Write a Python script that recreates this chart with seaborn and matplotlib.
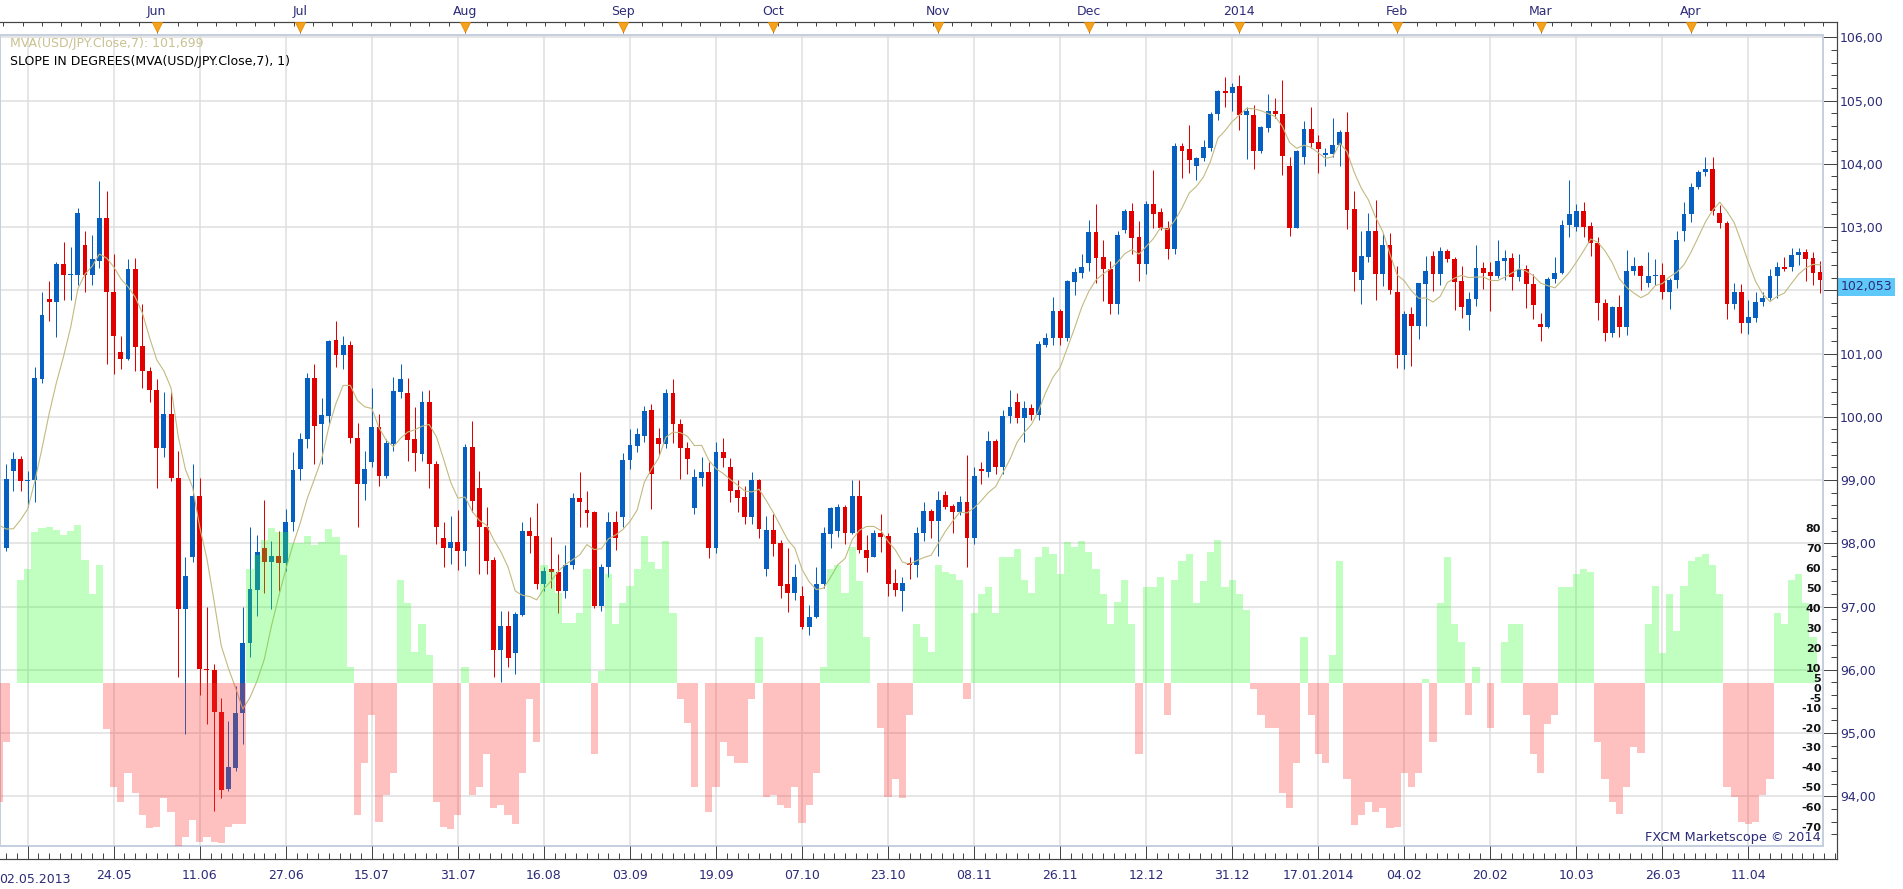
import numpy as np
import pandas as pd
import matplotlib
matplotlib.use("Agg")
import matplotlib.pyplot as plt
from matplotlib.patches import Rectangle
from matplotlib.lines import Line2D
from matplotlib.ticker import FixedLocator, FuncFormatter, NullFormatter
import seaborn as sns

# ---------------- data ----------------
open_ = [
    97.38, 97.93, 99.15, 99.33, 98.99, 99.00, 100.60, 101.87, 101.81, 102.41,
    102.24, 102.24, 102.72, 102.24, 102.47, 103.15, 101.98, 101.03, 100.92, 102.34,
    101.12, 100.73, 100.43, 99.51, 100.05, 99.03, 96.96, 97.79, 98.75, 96.02,
    95.99, 95.34, 94.11, 94.45, 95.32, 96.42, 97.26, 97.93, 97.71, 97.80,
    97.69, 98.33, 99.17, 99.65, 100.62, 99.88, 100.01, 101.22, 100.97, 101.14,
    99.66, 98.94, 99.29, 99.84, 99.07, 99.57, 100.40, 100.38, 99.65, 99.41,
    100.24, 99.26, 98.08, 97.93, 98.02, 97.88, 99.53, 98.87, 98.25, 97.74,
    96.32, 96.69, 96.26, 96.87, 98.20, 98.12, 97.35, 97.59, 97.54, 97.25,
    97.65, 98.71, 98.53, 98.50, 97.01, 97.63, 98.34, 98.41, 99.31, 99.54,
    99.70, 100.10, 99.67, 99.57, 100.38, 99.88, 99.51, 98.56, 99.03, 99.12,
    97.92, 99.45, 99.21, 98.85, 98.73, 98.41, 99.00, 97.60, 98.21, 98.00,
    97.35, 97.22, 97.16, 96.67, 96.83, 97.35, 98.14, 98.20, 98.58, 98.16,
    98.75, 97.90, 97.79, 98.16, 98.12, 97.37, 97.25, 97.69, 97.66, 98.17,
    98.51, 98.35, 98.77, 98.59, 98.49, 98.66, 98.08, 99.17, 99.13, 99.62,
    99.21, 100.02, 100.23, 99.98, 100.14, 100.03, 101.14, 101.25, 101.67, 101.25,
    102.13, 102.28, 102.43, 102.92, 102.52, 102.34, 101.78, 102.95, 103.25, 102.84,
    102.41, 103.36, 103.24, 102.99, 102.66, 104.28, 104.23, 103.97, 104.09, 104.25,
    104.78, 105.15, 105.12, 105.23, 104.77, 104.77, 104.20, 104.57, 104.83, 104.79,
    103.96, 102.99, 104.11, 104.55, 104.34, 104.14, 104.15, 104.29, 104.50, 103.28,
    102.17, 102.52, 102.93, 102.26, 102.71, 101.97, 100.97, 101.63, 101.44, 102.10,
    102.54, 102.25, 102.62, 102.50, 102.14, 101.61, 101.86, 102.35, 102.29, 102.23,
    102.47, 102.51, 102.21, 102.33, 102.10, 101.47, 101.42, 102.18, 102.27, 103.03,
    103.00, 103.25, 103.01, 102.74, 101.80, 101.32, 101.74, 101.42, 102.30, 102.38,
    102.11, 102.23, 102.24, 101.97, 102.17, 102.93, 103.21, 103.63, 103.87, 103.92,
    103.22, 103.07, 101.78, 101.98, 101.48, 101.56, 101.82, 101.88, 102.22, 102.37,
    102.37, 102.56, 102.60, 102.51, 102.29,
]
high = [
    98.05, 99.26, 99.44, 99.38, 99.15, 100.78, 101.97, 102.14, 102.45, 102.76,
    102.68, 103.30, 102.93, 102.87, 103.73, 103.57, 102.57, 101.28, 102.49, 102.51,
    101.79, 100.78, 100.60, 100.40, 100.40, 99.46, 97.78, 99.25, 99.03, 97.00,
    96.09, 95.55, 95.19, 95.75, 97.00, 98.26, 98.13, 98.69, 98.04, 98.20,
    98.54, 99.44, 99.75, 100.70, 100.83, 100.30, 101.21, 101.52, 101.28, 101.20,
    99.90, 99.46, 100.46, 100.04, 99.65, 100.63, 100.83, 100.61, 100.16, 100.41,
    100.43, 99.30, 98.33, 98.43, 98.53, 99.57, 99.94, 99.14, 98.57, 97.79,
    96.93, 96.93, 96.92, 98.33, 98.41, 98.63, 97.63, 98.10, 97.83, 97.98,
    98.79, 99.13, 98.83, 98.51, 97.67, 98.49, 98.51, 99.42, 99.80, 99.83,
    100.17, 100.20, 99.83, 100.44, 100.59, 99.96, 99.60, 99.17, 99.36, 99.28,
    99.60, 99.66, 99.35, 99.00, 98.90, 99.12, 99.02, 98.43, 98.47, 98.05,
    97.93, 97.67, 97.33, 97.03, 97.63, 98.25, 98.58, 98.62, 98.60, 99.00,
    99.00, 98.13, 98.21, 98.47, 98.16, 97.60, 97.47, 97.78, 98.26, 98.66,
    98.55, 98.83, 98.83, 98.62, 98.74, 99.39, 99.21, 99.28, 99.78, 99.65,
    100.10, 100.42, 100.37, 100.25, 100.20, 101.20, 101.33, 101.89, 101.70, 102.17,
    102.36, 102.58, 103.11, 103.37, 102.80, 102.46, 102.93, 103.28, 103.38, 103.10,
    103.41, 103.90, 103.30, 103.09, 104.33, 104.33, 104.61, 104.11, 104.38, 104.82,
    105.16, 105.38, 105.28, 105.41, 104.90, 104.93, 104.60, 105.10, 105.04, 105.33,
    104.11, 104.22, 104.67, 104.90, 104.45, 104.25, 104.73, 104.54, 104.82, 103.57,
    102.93, 103.22, 103.42, 102.90, 102.91, 102.38, 101.67, 101.73, 102.12, 102.55,
    102.62, 102.68, 102.66, 102.52, 102.38, 101.97, 102.71, 102.44, 102.44, 102.80,
    102.64, 102.59, 102.57, 102.40, 102.25, 101.64, 102.21, 102.52, 103.11, 103.74,
    103.37, 103.40, 103.08, 102.84, 101.86, 101.75, 101.92, 102.64, 102.52, 102.40,
    102.61, 102.50, 102.43, 102.20, 102.94, 103.40, 103.70, 103.90, 104.10, 104.10,
    103.35, 103.10, 102.12, 102.10, 101.84, 101.98, 101.97, 102.33, 102.44, 102.53,
    102.67, 102.67, 102.65, 102.60, 102.46,
]
low = [
    97.30, 97.88, 98.82, 98.82, 98.58, 98.65, 100.54, 101.52, 101.26, 101.85,
    101.84, 102.08, 101.97, 102.08, 102.35, 100.83, 100.68, 100.75, 100.90, 100.72,
    100.46, 100.23, 98.87, 99.36, 98.98, 95.88, 94.98, 97.70, 95.60, 95.14,
    93.77, 93.98, 94.08, 94.40, 94.83, 96.20, 96.85, 97.22, 96.96, 97.24,
    97.56, 98.20, 99.00, 99.50, 99.25, 99.25, 99.90, 100.78, 100.75, 99.58,
    98.25, 98.68, 99.20, 98.90, 99.04, 99.46, 100.30, 99.30, 99.14, 99.30,
    98.87, 97.99, 97.63, 97.67, 97.58, 97.64, 98.50, 97.51, 97.51, 95.88,
    95.80, 96.04, 95.93, 96.85, 97.85, 97.27, 97.24, 97.30, 96.90, 97.13,
    97.60, 98.26, 98.26, 96.98, 96.93, 97.46, 97.89, 98.25, 99.17, 99.45,
    99.60, 98.54, 99.40, 99.50, 99.58, 99.01, 99.10, 98.46, 98.90, 97.77,
    97.85, 99.20, 98.65, 98.49, 98.30, 98.30, 98.09, 97.49, 97.80, 97.14,
    96.92, 97.10, 96.65, 96.55, 96.82, 97.30, 97.92, 98.10, 97.99, 98.15,
    97.85, 97.55, 97.78, 97.87, 97.16, 97.17, 96.93, 97.44, 97.46, 98.04,
    98.09, 97.80, 98.54, 98.17, 98.45, 97.62, 97.99, 98.94, 99.05, 99.10,
    99.10, 99.90, 99.90, 99.60, 99.95, 99.95, 101.10, 101.14, 101.14, 101.20,
    101.93, 102.20, 102.30, 102.12, 101.83, 101.62, 101.63, 102.90, 102.58, 102.15,
    102.25, 102.99, 102.96, 102.50, 102.57, 103.78, 103.86, 103.75, 104.05, 104.20,
    104.70, 104.90, 104.84, 104.54, 104.08, 103.91, 104.17, 104.50, 104.73, 103.83,
    102.86, 102.98, 104.00, 104.25, 103.86, 103.97, 104.10, 103.96, 102.97, 101.99,
    101.78, 102.45, 101.84, 102.07, 101.94, 100.77, 100.76, 100.81, 101.23, 101.43,
    101.99, 102.08, 102.45, 101.69, 101.56, 101.37, 101.75, 102.02, 101.67, 102.20,
    102.16, 102.01, 102.15, 101.72, 101.54, 101.20, 101.40, 102.11, 102.25, 102.85,
    102.93, 102.84, 102.54, 101.53, 101.20, 101.26, 101.26, 101.29, 102.24, 102.00,
    102.05, 102.08, 101.86, 101.70, 102.03, 102.78, 103.08, 103.60, 103.80, 103.19,
    102.98, 101.54, 101.71, 101.32, 101.31, 101.50, 101.75, 101.85, 101.88, 102.30,
    102.30, 102.40, 102.15, 102.08, 101.95,
]
close = [
    97.95, 99.02, 99.33, 98.99, 99.00, 100.61, 101.61, 101.81, 102.41, 102.24,
    102.25, 103.23, 102.24, 102.49, 103.15, 101.97, 101.27, 100.92, 102.34, 101.11,
    100.72, 100.43, 99.51, 100.04, 99.03, 96.96, 97.49, 98.75, 96.01, 96.00,
    95.34, 94.10, 94.47, 95.32, 96.42, 97.28, 97.86, 97.71, 97.80, 97.69,
    98.34, 99.16, 99.65, 100.62, 99.86, 100.03, 101.20, 100.97, 101.14, 99.66,
    98.94, 99.17, 99.84, 99.07, 99.59, 100.41, 100.60, 99.63, 99.42, 100.24,
    99.26, 98.25, 97.93, 98.02, 97.88, 99.53, 98.67, 98.25, 97.72, 96.32,
    96.69, 96.19, 96.88, 98.20, 98.11, 97.35, 97.56, 97.54, 97.25, 97.66,
    98.71, 98.66, 98.48, 97.01, 97.63, 98.34, 98.09, 99.31, 99.56, 99.73,
    100.09, 99.09, 99.57, 100.38, 99.88, 99.51, 99.33, 99.05, 99.12, 97.92,
    99.45, 99.35, 98.83, 98.72, 98.41, 99.00, 98.23, 98.21, 97.99, 97.33,
    97.22, 97.47, 96.67, 96.84, 97.35, 98.16, 98.56, 98.58, 98.16, 98.75,
    97.89, 97.76, 98.17, 98.10, 97.36, 97.26, 97.38, 97.65, 98.17, 98.51,
    98.35, 98.69, 98.58, 98.49, 98.66, 98.08, 99.07, 99.14, 99.62, 99.21,
    100.02, 100.16, 99.98, 100.14, 100.03, 101.15, 101.25, 101.67, 101.25, 102.14,
    102.29, 102.37, 102.92, 102.51, 102.34, 101.78, 102.88, 103.25, 102.83, 102.41,
    103.36, 103.21, 102.99, 102.66, 104.28, 104.21, 104.06, 104.09, 104.26, 104.78,
    105.15, 105.12, 105.22, 104.77, 104.84, 104.20, 104.58, 104.83, 104.79, 104.12,
    102.99, 104.20, 104.55, 104.33, 104.24, 104.17, 104.29, 104.50, 103.27, 102.29,
    102.54, 102.93, 102.26, 102.71, 102.00, 100.97, 101.63, 101.44, 102.11, 102.30,
    102.25, 102.62, 102.50, 102.13, 101.74, 101.87, 102.35, 102.28, 102.23, 102.47,
    102.51, 102.21, 102.33, 102.10, 101.76, 101.42, 102.18, 102.27, 103.03, 103.21,
    103.25, 103.00, 102.74, 101.80, 101.32, 101.74, 101.42, 102.30, 102.38, 102.22,
    102.22, 102.24, 101.97, 102.17, 102.80, 103.21, 103.63, 103.87, 103.92, 103.26,
    103.06, 101.78, 101.98, 101.48, 101.58, 101.82, 101.88, 102.22, 102.37, 102.34,
    102.56, 102.60, 102.50, 102.28, 102.17,
]
slope_deg = [
    -60.0, -30.0, 0.0, 51.6, 57.1, 75.7, 77.9, 78.4, 76.7, 74.2,
    76.2, 79.2, 61.7, 44.6, 59.1, -23.3, -52.3, -59.8, -45.6, -55.6,
    -66.5, -73.2, -72.4, -58.0, -64.8, -82.0, -77.4, -69.0, -79.9, -77.4,
    -79.9, -80.7, -72.4, -71.0, -71.2, 57.1, 64.2, 71.7, 77.6, 75.9,
    75.5, 70.0, 70.0, 73.7, 69.2, 70.5, 77.1, 73.0, 64.2, 8.0,
    -66.5, -40.5, -16.2, -70.0, -56.4, -45.2, 51.6, 40.2, 15.6, 29.5,
    13.9, -59.8, -72.4, -73.7, -66.5, 8.0, -56.4, -52.3, -35.8, -63.1,
    -61.5, -66.5, -71.0, -45.6, -8.2, -29.6, 59.1, 56.6, 44.9, 29.8,
    29.8, 34.8, 57.1, -35.8, 6.0, 54.6, 29.5, 39.9, 48.7, 57.1,
    73.7, 60.8, 57.1, 71.2, 34.8, -8.2, -20.4, -52.3, 0.0, -64.8,
    -52.3, -29.6, -36.8, -40.5, -40.5, -8.2, 23.1, -57.3, -56.4, -61.5,
    -63.1, -52.3, -70.7, -61.5, -45.2, 8.0, 57.1, 59.1, 44.9, 68.3,
    51.1, 23.1, 0.0, -23.0, -57.6, -48.6, -58.1, -16.2, 29.5, 23.1,
    15.6, 59.1, 55.5, 54.6, 51.6, -8.2, 35.2, 44.6, 47.9, 35.2,
    63.3, 63.3, 67.2, 51.6, 44.9, 63.3, 68.3, 64.7, 54.6, 70.5,
    68.0, 71.2, 65.8, 57.1, 44.6, 29.5, 40.7, 51.6, 29.5, -35.8,
    48.2, 48.2, 53.3, -16.2, 51.6, 61.1, 64.7, 40.2, 51.1, 65.8,
    71.7, 48.2, 51.6, 44.6, 36.5, -3.0, -16.2, -23.0, -23.0, -55.3,
    -63.1, -40.5, 23.1, -16.2, -35.8, -40.5, 13.9, 61.1, -48.6, -71.4,
    -66.5, -59.8, -64.8, -63.1, -72.9, -72.4, -45.2, -52.3, -45.2, 2.0,
    -29.6, 39.9, 63.1, 29.5, 20.3, -16.2, 7.7, 0.0, -23.0, 0.0,
    20.3, 29.5, 29.5, -16.2, -35.8, -45.2, -20.8, -16.2, 48.2, 48.2,
    54.6, 57.1, 55.8, -29.6, -48.6, -59.8, -66.2, -52.3, -32.2, -35.4,
    29.5, 48.4, 14.9, 44.6, 26.2, 48.4, 61.1, 63.1, 64.7, 59.1,
    44.6, -52.3, -57.6, -69.8, -71.0, -69.8, -56.4, -48.6, 34.8, 29.5,
    51.6, 54.6, 40.0, 23.1, 0.0,
]
prior_close = [99.45, 99.31, 98.00, 97.80, 97.52, 97.98]   # closes before the first visible day
month_labels = ["Jun", "Jul", "Aug", "Sep", "Oct", "Nov", "Dec", "2014", "Feb", "Mar", "Apr"]
date_labels = ["", "24.05", "11.06", "27.06", "15.07", "31.07", "16.08", "03.09", "19.09",
               "07.10", "23.10", "08.11", "26.11", "12.12", "31.12", "17.01.2014", "04.02",
               "20.02", "10.03", "26.03", "11.04"]
first_date_label = "02.05.2013"
price_ticks = list(range(94, 107))
slope_ticks = [80, 70, 60, 50, 40, 30, 20, 10, 5, 0, -5, -10, -20, -30, -40, -50, -60, -70]
last_price = 102.053
legend_ma = "MVA(USD/JPY.Close,7): 101,699"
legend_slope = "SLOPE IN DEGREES(MVA(USD/JPY.Close,7), 1)"
watermark = "FXCM Marketscope \u00a9 2014"

# ---------------- layout (pixels) ----------------
W, H, DPI = 1903, 889, 100
PX = 72.0 / DPI
def fx(p): return p / W
def fy(p): return 1 - p / H

PLOT_R, PLOT_T, PLOT_B = 1822.7, 34.5, 846.0
AXIS_R, AXIS_T, AXIS_B = 1836.7, 21.7, 859.3
STEP, X0 = 7.17, -1.0
def px_to_idx(p): return (p - X0) / STEP

PX_PER_PRICE = 63.25
PRICE_TOP = 106 + (37.3 - PLOT_T) / PX_PER_PRICE
PRICE_BOT = 106 - (PLOT_B - 37.3) / PX_PER_PRICE
PX_PER_DEG, ZERO_Y = 1.99, 682.7
SLOPE_BOT = -(PLOT_B - ZERO_Y) / PX_PER_DEG
SLOPE_TOP = (ZERO_Y - PLOT_T) / PX_PER_DEG

BLUE, RED = "#0560c2", "#e00000"
MA_COL = "#c2ba80"
NAVY = "#2b2b78"
AX_COL = "#444444"
GRID_COL = "#dedede"

# ---------------- derived arrays ----------------
o = np.array(open_); h = np.array(high); l = np.array(low); c = np.array(close)
N = len(c)
idx = np.arange(N)
up = c >= o
cols = np.where(up, BLUE, RED)
ma = pd.Series(prior_close + close).rolling(7).mean().iloc[len(prior_close):].to_numpy()

dates = pd.bdate_range("2013-05-02", "2014-04-25")
dates = dates.drop(pd.to_datetime(["2013-12-25", "2014-01-01"]))
M = min(N, len(dates))
month_idx = [i for i in range(1, M) if dates[i].month != dates[i - 1].month][:len(month_labels)]
grid_idx = list(range(4, N, 12))[:len(date_labels)]

slope = np.array(slope_deg)
df_slope = pd.DataFrame({"idx": idx, "slope": slope,
                         "dir": np.where(slope >= 0, "up", "down")})

# ---------------- figure ----------------
fig = plt.figure(figsize=(W / DPI, H / DPI), dpi=DPI)
fig.patch.set_facecolor("white")
ax = fig.add_axes([0, fy(PLOT_B), fx(PLOT_R), (PLOT_B - PLOT_T) / H])
ax.set_axisbelow(True)

# candles
ax.vlines(idx, l, h, colors=cols, linewidth=1.0 * PX, zorder=2)
body = np.maximum(np.abs(c - o), 0.016)
ax.bar(idx, body, bottom=np.minimum(o, c), width=0.68, color=cols, linewidth=0, zorder=3)

# moving average
sns.lineplot(x=idx, y=ma, ax=ax, color=MA_COL, linewidth=0.8, zorder=4)

# slope histogram (overlay)
ax2 = ax.twinx()
sns.barplot(data=df_slope, x="idx", y="slope", hue="dir",
            palette={"up": "#34ff34", "down": "#ff3434"}, dodge=False,
            native_scale=True, width=1.0, errorbar=None, legend=False,
            saturation=1, alpha=0.31, linewidth=0, antialiased=False, ax=ax2)

ax.set_xlim(px_to_idx(0), px_to_idx(PLOT_R))
ax.set_ylim(PRICE_BOT, PRICE_TOP)
ax2.set_ylim(SLOPE_BOT, SLOPE_TOP)
for a in (ax, ax2):
    a.set_xlabel("")
    a.set_ylabel("")
    for s in a.spines.values():
        s.set_visible(False)
ax2.set_yticks([])
ax2.tick_params(axis="x", length=0, labelbottom=False)

# grid + price axis
def price_fmt(v, pos):
    if abs(v - last_price) < 0.2:      # hidden behind the last-price box
        return ""
    return f"{v:.2f}".replace(".", ",")

ax.set_xticks(grid_idx)
ax.tick_params(axis="x", length=0, labelbottom=False)
ax.yaxis.tick_right()
ax.spines["right"].set_position(("outward", (AXIS_R - PLOT_R) * PX))
ax.yaxis.set_major_locator(FixedLocator(price_ticks))
ax.yaxis.set_minor_locator(FixedLocator(np.round(np.arange(93.4, 106.01, 0.2), 2)))
ax.yaxis.set_major_formatter(FuncFormatter(price_fmt))
ax.yaxis.set_minor_formatter(NullFormatter())
ax.tick_params(axis="y", which="major", direction="in", length=14 * PX, width=1.0 * PX,
               color=AX_COL, labelcolor=NAVY, labelsize=9, pad=3.2 * PX,
               left=False, labelleft=False, right=True, labelright=True)
ax.tick_params(axis="y", which="minor", direction="in", length=6 * PX, width=1.0 * PX,
               color=AX_COL, left=False, right=True)
ax.grid(True, which="major", color=GRID_COL, linewidth=1.5 * PX)
ax.add_patch(Rectangle((0, 0), 1, 1, transform=ax.transAxes, fill=False,
                       edgecolor="#c5cfdd", linewidth=2 * PX, clip_on=False, zorder=10))

# slope scale labels (inside the plot, right side)
for v in slope_ticks:
    ax2.annotate(str(v), xy=(1, v), xycoords=("axes fraction", "data"),
                 xytext=(-1.5 * PX, -6 * PX), textcoords="offset points",
                 ha="right", va="center", fontsize=8, fontweight="bold",
                 color="#111111", zorder=12)

# last price box
ax.annotate(f"{last_price:.3f}".replace(".", ","), xy=(1, last_price),
            xycoords=("axes fraction", "data"),
            xytext=((AXIS_R - PLOT_R + 3.5) * PX, 0), textcoords="offset points",
            ha="left", va="center", fontsize=9, color=NAVY, annotation_clip=False,
            bbox=dict(boxstyle="square,pad=0.22", fc="#5ec8f8", ec="none"))

# ---------------- top date axis ----------------
ax_top = fig.add_axes([0, fy(PLOT_T), fx(AXIS_R), (PLOT_T - AXIS_T) / H])
ax_top.set_facecolor("none")
ax_top.set_xlim(px_to_idx(0), px_to_idx(AXIS_R))
ax_top.set_ylim(0, 1)
for k, s in ax_top.spines.items():
    s.set_visible(k == "top")
ax_top.spines["top"].set_color(AX_COL)
ax_top.spines["top"].set_linewidth(1.2 * PX)
ax_top.set_yticks([])
ax_top.xaxis.tick_top()
ax_top.set_xticks(month_idx, labels=month_labels[:len(month_idx)])
ax_top.xaxis.set_minor_locator(FixedLocator(np.arange(0.6, px_to_idx(AXIS_R), 2.7)))
ax_top.tick_params(axis="x", which="major", direction="in", length=11.5 * PX,
                   width=1.0 * PX, color=AX_COL, labelcolor=NAVY, labelsize=9,
                   pad=3.5 * PX, top=True, bottom=False, labeltop=True, labelbottom=False)
ax_top.tick_params(axis="x", which="minor", direction="in", length=3.5 * PX,
                   width=1.0 * PX, color=AX_COL, top=True, bottom=False)
ax_top.plot(month_idx, [0.62] * len(month_idx), linestyle="none", marker="v",
            markersize=7, markerfacecolor="#f7a21c", markeredgecolor="#e58c00",
            markeredgewidth=0.6, clip_on=False, zorder=5)

# ---------------- bottom date axis ----------------
ax_bot = fig.add_axes([0, fy(AXIS_B), fx(AXIS_R), (AXIS_B - PLOT_B) / H])
ax_bot.set_facecolor("none")
ax_bot.set_xlim(px_to_idx(0), px_to_idx(AXIS_R))
ax_bot.set_ylim(0, 1)
for k, s in ax_bot.spines.items():
    s.set_visible(k == "bottom")
ax_bot.spines["bottom"].set_color(AX_COL)
ax_bot.spines["bottom"].set_linewidth(1.2 * PX)
ax_bot.set_yticks([])
ax_bot.set_xticks(grid_idx, labels=date_labels[:len(grid_idx)])
ax_bot.xaxis.set_minor_locator(FixedLocator(np.arange(grid_idx[0] - 4.5, px_to_idx(AXIS_R), 1.5)))
ax_bot.tick_params(axis="x", which="major", direction="in", length=13 * PX,
                   width=1.0 * PX, color=AX_COL, labelcolor=NAVY, labelsize=9,
                   pad=9.5 * PX)
ax_bot.tick_params(axis="x", which="minor", direction="in", length=6 * PX,
                   width=1.0 * PX, color=AX_COL)
ax_bot.text(0.0, -1.0, first_date_label, transform=ax_bot.get_xaxis_transform(),
            ha="left", va="top", fontsize=9, color=NAVY)

# right axis line
fig.add_artist(Line2D([fx(AXIS_R)] * 2, [fy(AXIS_T), fy(AXIS_B)],
                      transform=fig.transFigure, color=AX_COL, linewidth=1.2 * PX))

# ---------------- texts ----------------
fig.text(fx(9.8), fy(43.5), legend_ma, color="#c9c190", fontsize=9, ha="left", va="center")
fig.text(fx(9.8), fy(61.7), legend_slope, color="black", fontsize=9, ha="left", va="center")
fig.text(fx(1821), fy(838), watermark, color=NAVY, fontsize=9.3, ha="right", va="center")

fig.savefig("out.png", dpi=DPI)
